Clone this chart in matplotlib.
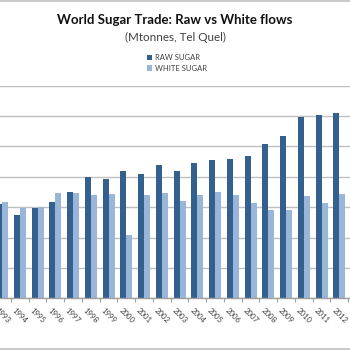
import numpy as np
from matplotlib import pyplot as plt
from matplotlib.lines import Line2D
from matplotlib.transforms import ScaledTranslation

plt.rcParams['font.family'] = ['Lato', 'DejaVu Sans']

years = [str(y) for y in range(1993, 2014)]
raw_sugar = [15.6, 13.7, 14.9, 15.9, 17.5, 19.9, 19.6, 20.9, 20.4, 21.9, 20.9,
             22.3, 22.8, 23.0, 23.4, 25.4, 26.8, 29.9, 30.1, 30.5, np.nan]
white_sugar = [15.9, 14.8, 15.1, 17.3, 17.4, 17.0, 17.1, 10.4, 17.0, 17.4, 16.0,
               17.0, 17.5, 17.0, 15.7, 14.6, 14.5, 16.9, 15.7, 17.2, np.nan]

raw_color = '#34608F'
white_color = '#99B5D8'

fig = plt.figure(figsize=(3.5, 3.5), dpi=100)
# plot area runs wider than the canvas, only the middle stretch is shown
ax = fig.add_axes([-0.0196, 0.1477, 1.065, 0.6074])

x = np.arange(len(years))
w = 0.338
ax.bar(x - w / 2, raw_sugar, w, color=raw_color, label='RAW SUGAR')
ax.bar(x + w / 2, white_sugar, w, color=white_color, label='WHITE SUGAR')

ax.set_xlim(-0.5, len(years) - 0.5)
ax.set_ylim(0, 35)
ax.set_yticks(np.arange(0, 36, 5))
ax.yaxis.grid(True, color='#C0C0C0', linewidth=1.0)
ax.set_axisbelow(True)
ax.tick_params(axis='y', left=False, labelleft=False)

# tick marks sit between categories, labels at the centres
ax.set_xticks(x)
ax.set_xticklabels(years, rotation=-45, ha='center', va='top', fontsize=5.6, color='#404040')
shift = ScaledTranslation(-4 / 100, 0, fig.dpi_scale_trans)
for lbl in ax.get_xticklabels():
    lbl.set_transform(lbl.get_transform() + shift)
ax.set_xticks(np.arange(-0.5, len(years)), minor=True)
ax.tick_params(axis='x', which='major', length=0, pad=6)
ax.tick_params(axis='x', which='minor', length=3, color='#A0A0A0', width=0.8)

for side in ['top', 'right', 'left']:
    ax.spines[side].set_visible(False)
ax.spines['bottom'].set_color('#A0A0A0')
ax.spines['bottom'].set_linewidth(1.0)

fig.text(0.5, 0.943, 'World Sugar Trade: Raw vs White flows', ha='center', va='center',
         fontsize=9.5, fontweight='bold', color='#111111')
fig.text(0.5, 0.893, '(Mtonnes, Tel Quel)', ha='center', va='center',
         fontsize=8.4, color='#404040')

leg = fig.legend(loc='center', bbox_to_anchor=(0.505, 0.82), frameon=False, fontsize=5.5,
                 handlelength=0.7, handleheight=0.7, handletextpad=0.4, labelspacing=0.45)
for t in leg.get_texts():
    t.set_color('#404040')

# outer chart border, top and bottom edges
fig.add_artist(Line2D([0, 1], [0.996, 0.996], color='#C0C0C0', linewidth=1.2))
fig.add_artist(Line2D([0, 1], [0.004, 0.004], color='#C0C0C0', linewidth=1.2))

fig.savefig('out.png', dpi=100, facecolor='white')
